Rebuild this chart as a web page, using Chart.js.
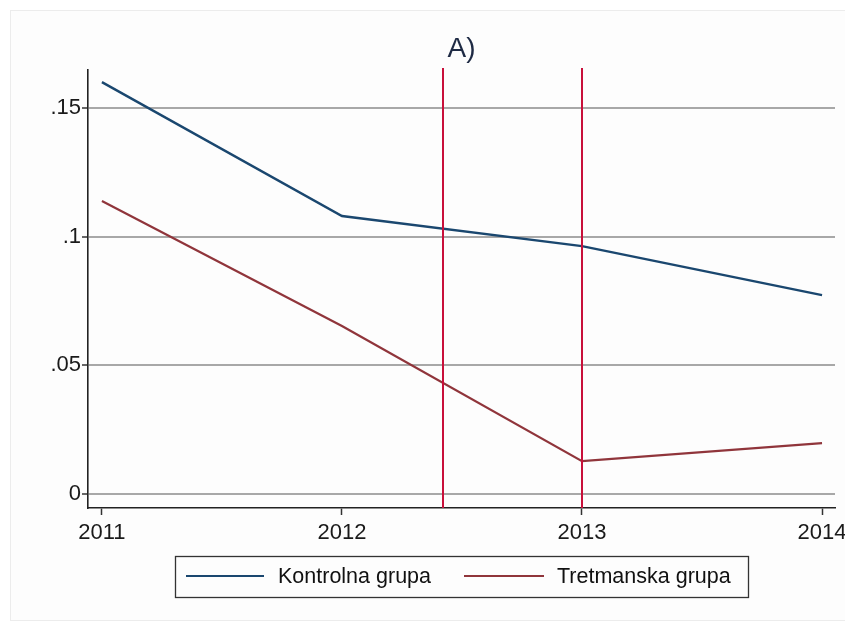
<!DOCTYPE html>
<html>
<head>
<meta charset="utf-8">
<script src="https://cdn.jsdelivr.net/npm/chart.js@4.4.1/dist/chart.umd.min.js"></script>
<style>
  html, body { margin: 0; padding: 0; background: #ffffff; }
  canvas { display: block; }
</style>
</head>
<body>
<canvas id="chart" width="845" height="621"></canvas>
<script>
// Survey years on the x axis
const years = [2011, 2012, 2013, 2014];

// Share per group and year
const kontrolna = [0.160, 0.108, 0.0963, 0.0773];
const tretmanska = [0.1138, 0.0653, 0.0128, 0.0198];

// Series names shown in the legend
const seriesNames = ['Kontrolna grupa', 'Tretmanska grupa'];

// Y axis ticks and their labels
const yTickValues = [0, 0.05, 0.1, 0.15];
const yTickLabels = ['0', '.05', '.1', '.15'];

// Reference dates marked with vertical lines
const markerYears = [2012.42, 2013];

const chartTitle = 'A)';

const FONT = '"Liberation Sans", Arial, sans-serif';
const BLUE = '#1a476f';
const MAROON = '#90353b';
const MARKER = '#c8103a';

// Outer frame, title, reference lines and the boxed legend
const decorations = {
  id: 'decorations',
  beforeDraw(chart) {
    const ctx = chart.ctx;
    ctx.save();
    ctx.fillStyle = '#fdfdfd';
    ctx.fillRect(10, 10, 845, 611);
    ctx.strokeStyle = '#ececec';
    ctx.lineWidth = 1;
    ctx.strokeRect(10.5, 10.5, 845, 610);
    ctx.restore();
  },
  afterDatasetsDraw(chart) {
    const ctx = chart.ctx;
    const area = chart.chartArea;
    const xs = chart.scales.x;
    ctx.save();
    ctx.strokeStyle = MARKER;
    ctx.lineWidth = 2;
    markerYears.forEach(v => {
      const px = Math.round(xs.getPixelForValue(v));
      ctx.beginPath();
      ctx.moveTo(px, area.top - 2);
      ctx.lineTo(px, area.bottom);
      ctx.stroke();
    });
    ctx.restore();
  },
  afterDraw(chart) {
    const ctx = chart.ctx;
    const area = chart.chartArea;
    ctx.save();
    // title
    ctx.fillStyle = '#1e2a44';
    ctx.font = '28px ' + FONT;
    ctx.textAlign = 'center';
    ctx.textBaseline = 'middle';
    ctx.fillText(chartTitle, (area.left + area.right) / 2, 49);

    // legend box
    ctx.strokeStyle = '#333';
    ctx.lineWidth = 1.3;
    ctx.strokeRect(175.5, 556.5, 573, 41);
    const items = [
      { x0: 186, x1: 264, tx: 278, color: BLUE, label: seriesNames[0] },
      { x0: 464, x1: 544, tx: 557, color: MAROON, label: seriesNames[1] }
    ];
    ctx.font = '21.5px ' + FONT;
    ctx.textAlign = 'left';
    ctx.fillStyle = '#111';
    items.forEach(it => {
      ctx.strokeStyle = it.color;
      ctx.lineWidth = 2.2;
      ctx.beginPath();
      ctx.moveTo(it.x0, 576);
      ctx.lineTo(it.x1, 576);
      ctx.stroke();
      ctx.fillText(it.label, it.tx, 577);
    });
    ctx.restore();
  }
};

const toPoints = arr => years.map((y, i) => ({ x: y, y: arr[i] }));

new Chart(document.getElementById('chart'), {
  type: 'line',
  data: {
    datasets: [
      {
        label: seriesNames[0],
        data: toPoints(kontrolna),
        borderColor: BLUE,
        borderWidth: 2.4,
        pointRadius: 0,
        tension: 0,
        fill: false
      },
      {
        label: seriesNames[1],
        data: toPoints(tretmanska),
        borderColor: MAROON,
        borderWidth: 2.2,
        pointRadius: 0,
        tension: 0,
        fill: false
      }
    ]
  },
  options: {
    responsive: false,
    animation: false,
    devicePixelRatio: 1,
    layout: { padding: { top: 70, right: 10, bottom: 73, left: 0 } },
    plugins: {
      legend: { display: false },
      title: { display: false },
      tooltip: { enabled: false }
    },
    scales: {
      x: {
        type: 'linear',
        min: 2010.942,
        max: 2014.054,
        afterBuildTicks(scale) {
          scale.ticks = years.map(v => ({ value: v }));
        },
        afterFit(scale) {
          scale.height = 40;
          scale.paddingLeft = 0;
          scale.paddingRight = 0;
        },
        ticks: {
          autoSkip: false,
          maxRotation: 0,
          padding: 5,
          color: '#1a1a1a',
          font: { family: FONT, size: 22 },
          callback: v => String(v)
        },
        grid: {
          drawOnChartArea: false,
          drawTicks: true,
          tickLength: 7,
          tickColor: '#333',
          tickWidth: 1.5
        },
        border: { color: '#222', width: 1.6 }
      },
      y: {
        type: 'linear',
        min: -0.0054,
        max: 0.1647,
        afterBuildTicks(scale) {
          scale.ticks = yTickValues.map(v => ({ value: v }));
        },
        afterFit(scale) {
          scale.width = 88;
          scale.paddingTop = 0;
          scale.paddingBottom = 0;
        },
        ticks: {
          autoSkip: false,
          padding: 1,
          color: '#1a1a1a',
          font: { family: FONT, size: 22 },
          callback: (v) => yTickLabels[yTickValues.indexOf(v)]
        },
        grid: {
          color: '#a8a8a8',
          lineWidth: 2,
          drawTicks: true,
          tickLength: 6,
          tickColor: '#333',
          tickWidth: 1.5
        },
        border: { color: '#222', width: 1.6 }
      }
    }
  },
  plugins: [decorations]
});
</script>
</body>
</html>
